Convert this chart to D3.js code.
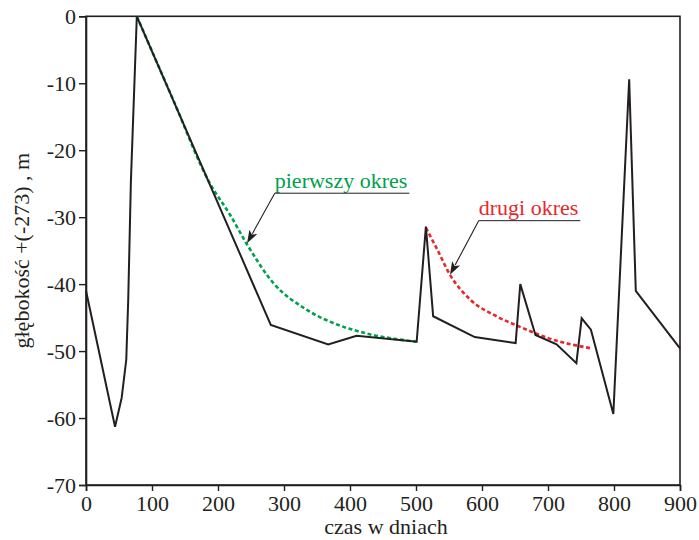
<!DOCTYPE html>
<html><head><meta charset="utf-8">
<script src="https://cdn.jsdelivr.net/npm/d3@7"></script>
<style>body{margin:0;background:#fff}svg{display:block}
svg text{font-family:"Liberation Serif","DejaVu Serif",serif}</style>
</head><body>
<svg id="c" width="699" height="540"></svg>
<script>
// ---- data ----
const xTicks = [0,100,200,300,400,500,600,700,800,900];
const yTicks = [0,-10,-20,-30,-40,-50,-60,-70];
const depthDays = [0,44,54,61,64,68,77,280,367,410,501,515,526,589,651,658,681,713,743,751,765,799,823,833,900];
const depthVals = [-41,-61.3,-57,-51.3,-42.3,-24.7,0,-46.1,-49,-47.7,-48.6,-31.4,-44.8,-47.9,-48.8,-40,-47.6,-49,-51.8,-45.1,-46.8,-59.4,-9.4,-41,-49.6];
const firstDays = [77,130,188,218,243,284,334,385,411,435,470,501];
const firstVals = [0,-12,-25,-29.6,-33.9,-39.85,-43.8,-46.2,-47.0,-47.6,-48.2,-48.6];
const secondDays = [515,531,551.5,582,622,658,708,766];
const secondVals = [-31.6,-34.6,-38.6,-42.3,-44.8,-46.4,-48.3,-49.6];
const labels = ["pierwszy okres","drugi okres"];
const labelAt = [[286,-25.6],[595,-29.7]];      // text start (day, depth)
const arrowTip = [[244,-33.9],[551.5,-38.6]];
const xTitle = "czas w dniach";
const yTitle = "głębokość +(-273) , m";

// ---- chart ----
const svg = d3.select("#c");
const x = d3.scaleLinear().domain([0,900]).range([86,680]);
const y = d3.scaleLinear().domain([-70,0]).range([485,16.3]);
const ink = "#231f20";

svg.append("rect").attr("x",x(0)).attr("y",y(0)).attr("width",x(900)-x(0)).attr("height",y(-70)-y(0))
  .attr("fill","none").attr("stroke",ink).attr("stroke-width",1.6);

const xa = svg.append("g").attr("transform",`translate(0,${y(-70)})`)
  .call(d3.axisBottom(x).tickValues(xTicks).tickSize(6).tickPadding(5).tickFormat(d3.format("d")));
const ya = svg.append("g").attr("transform",`translate(${x(0)},0)`)
  .call(d3.axisLeft(y).tickValues(yTicks).tickSize(7).tickPadding(3).tickFormat(d=>d===0?"0":"-"+Math.abs(d)));
[xa,ya].forEach(g=>{
  g.attr("font-family",null).attr("font-size",null);
  g.select(".domain").attr("stroke",ink).attr("stroke-width",1.6);
  g.selectAll(".tick line").attr("stroke",ink).attr("stroke-width",1.4);
  g.selectAll("text").style("font-size","22px").attr("fill",ink);
});
xa.selectAll("text").attr("dy","0.68em");

svg.append("text").attr("x",(x(0)+x(900))/2+3).attr("y",534).attr("text-anchor","middle")
  .style("font-size","22px").attr("fill",ink).text(xTitle);
svg.append("text").attr("transform",`translate(29,${(y(0)+y(-70))/2}) rotate(-90)`).attr("text-anchor","middle")
  .style("font-size","22px").attr("fill",ink).text(yTitle);

const lineMono = d3.line().x(d=>x(d[0])).y(d=>y(d[1])).curve(d3.curveMonotoneX);
svg.append("path").datum(firstDays.map((d,i)=>[d,firstVals[i]])).attr("d",lineMono)
  .attr("fill","none").attr("stroke","#00a04b").attr("stroke-width",2.6).attr("stroke-dasharray","4,2.6");
svg.append("path").datum(secondDays.map((d,i)=>[d,secondVals[i]])).attr("d",lineMono)
  .attr("fill","none").attr("stroke","#e8262b").attr("stroke-width",2.6).attr("stroke-dasharray","4,2.6");

const lineLin = d3.line().x(d=>x(d[0])).y(d=>y(d[1]));
svg.append("path").datum(depthDays.map((d,i)=>[d,depthVals[i]])).attr("d",lineLin)
  .attr("fill","none").attr("stroke",ink).attr("stroke-width",2).attr("stroke-linejoin","miter");

const colors = ["#00a04b","#e8262b"];
labels.forEach((t,i)=>{
  const tx = x(labelAt[i][0]), ty = y(labelAt[i][1]);
  const txt = svg.append("text").attr("x",tx).attr("y",ty)
    .style("font-size","22px").attr("fill",colors[i]).text(t);
  const w = txt.node().getComputedTextLength();
  const uy = ty+5.5;
  svg.append("line").attr("x1",tx).attr("x2",tx+w+2).attr("y1",uy).attr("y2",uy)
    .attr("stroke",ink).attr("stroke-width",1);
  const ax = x(arrowTip[i][0]), ay = y(arrowTip[i][1]);
  const dx = ax-tx, dy = ay-uy, L = Math.hypot(dx,dy), ux = dx/L, uyv = dy/L;
  const hl = 13, hw = 4.5;
  const bx = ax-ux*hl, by = ay-uyv*hl;
  svg.append("line").attr("x1",tx).attr("y1",uy).attr("x2",bx+ux*2).attr("y2",by+uyv*2)
    .attr("stroke",ink).attr("stroke-width",1.1);
  svg.append("path").attr("d",`M${ax},${ay}L${bx-uyv*hw},${by+ux*hw}L${bx+ux*3},${by+uyv*3}L${bx+uyv*hw},${by-ux*hw}Z`)
    .attr("fill",ink);
});
</script>
</body></html>
